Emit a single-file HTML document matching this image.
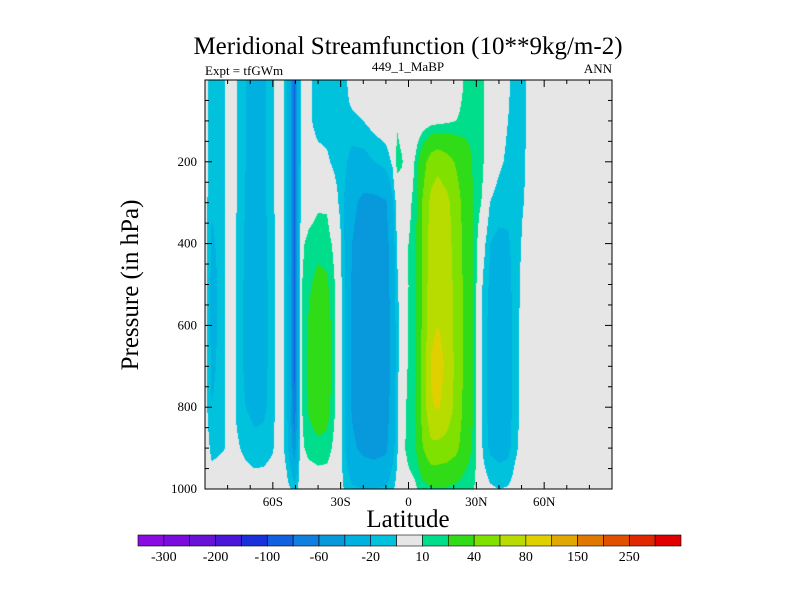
<!DOCTYPE html>
<html><head><meta charset="utf-8"><style>
body{margin:0;background:#fff;width:800px;height:600px;overflow:hidden;font-family:"Liberation Serif",serif}
</style></head><body>
<svg id="root" width="800" height="600" xmlns="http://www.w3.org/2000/svg">
<text x="408" y="54" text-anchor="middle" font-size="25" font-family="Liberation Serif">Meridional Streamfunction (10**9kg/m-2)</text>
<text x="205" y="75" font-size="13" font-family="Liberation Serif">Expt = tfGWm</text>
<text x="408" y="71" text-anchor="middle" font-size="13" font-family="Liberation Serif">449_1_MaBP</text>
<text x="612" y="73" text-anchor="end" font-size="13" font-family="Liberation Serif">ANN</text>
<foreignObject x="205" y="80" width="407" height="409">
<canvas id="cv" width="407" height="409" xmlns="http://www.w3.org/1999/xhtml" style="display:block"></canvas>
</foreignObject>
<g id="axes"></g>
<text x="408" y="527" text-anchor="middle" font-size="25" font-family="Liberation Serif">Latitude</text>
<text transform="translate(138,285) rotate(-90)" text-anchor="middle" font-size="25" font-family="Liberation Serif">Pressure (in hPa)</text>
<g id="cbar"></g>
</svg>
<script>
const lats=[-90,-87,-84,-81,-78,-76,-72,-68,-64,-60,-57,-54,-52,-50.5,-49,-47,-44,-40,-36,-32,-28,-25,-20,-15,-10,-7,-5,-3,0,3,6,10,13,17,21,25,29,33,36,40,44,47,51,54,90];
const pressures=[0,100,200,300,400,500,600,700,800,900,1000];
const values=[
[-5,-5,-5,-5,-5,-5,-5,-5,-5,-3,0],
[-15,-15,-16,-19,-22,-24,-24,-23,-20,-13,-4],
[-15,-15,-15,-16,-18,-19,-19,-18,-16,-12,-2],
[-10,-10,-10,-10,-10,-10,-10,-10,-10,-10,-2],
[-3,-3,-3,-3,-3,-3,-3,-3,-3,-3,-1],
[-10,-10,-10,-10,-11,-11,-12,-12,-12,-8,-2],
[-20,-20,-20,-21,-22,-23,-23,-23,-20,-13,-3],
[-24,-24,-25,-26,-27,-28,-28,-28,-24,-16,-4],
[-22,-22,-22,-23,-24,-25,-25,-25,-23,-15,-4],
[-12,-12,-12,-12,-13,-13,-13,-13,-13,-11,-3],
[-3,-3,-3,-3,-3,-3,-3,-3,-3,-3,-1],
[-15,-15,-15,-15,-15,-15,-15,-15,-15,-14,-6],
[-40,-40,-40,-40,-40,-40,-40,-42,-40,-30,-10],
[-85,-85,-85,-85,-85,-85,-85,-85,-80,-50,-15],
[-30,-30,-30,-30,-30,-30,-30,-30,-30,-25,-10],
[-5,-5,-5,-3,8,10,10,10,10,8,0],
[-8,-8,-4,3,14,18,22,24,22,14,0],
[-14,-14,-6,8,16,24,32,34,30,16,2],
[-15,-15,-8,8,15,22,28,30,26,15,2],
[-15,-15,-14,-6,5,8,8,8,8,5,0],
[-12,-12,-18,-22,-22,-22,-22,-22,-22,-20,-12],
[-5,-12,-25,-35,-40,-42,-44,-44,-42,-36,-18],
[-3,-10,-25,-45,-50,-52,-54,-54,-52,-45,-20],
[-3,-5,-20,-45,-52,-55,-56,-56,-55,-48,-20],
[-3,-3,-15,-42,-48,-50,-52,-52,-50,-44,-18],
[-3,-3,-8,-22,-28,-30,-32,-32,-30,-25,-12],
[-3,8,16,-5,-8,-12,-13,-13,-13,-12,-6],
[-3,2,12,-3,-3,-4,-4,-3,0,6,0],
[-2,-2,-2,6,10,10,10,12,15,14,5],
[-2,-2,12,15,16,16,16,18,20,18,8],
[-2,2,30,40,42,42,42,44,45,38,14],
[-2,5,50,65,70,72,75,82,78,55,18],
[-2,6,55,70,74,76,80,90,82,55,18],
[-2,8,48,65,68,70,72,75,72,52,18],
[0,10,38,50,52,54,54,55,54,45,16],
[12,14,28,32,34,35,35,35,34,30,12],
[16,16,18,18,18,18,18,18,18,17,10],
[12,12,11,8,-5,-12,-14,-14,-14,-12,-3],
[-3,-3,-3,-10,-20,-22,-24,-25,-25,-22,-8],
[-4,-5,-8,-14,-24,-28,-30,-30,-30,-26,-10],
[-8,-10,-12,-16,-22,-25,-27,-27,-27,-24,-9],
[-14,-14,-14,-14,-15,-15,-15,-15,-15,-13,-5],
[-13,-13,-12,-10,-8,-6,-5,-5,-5,-4,-2],
[-3,-3,-3,-3,-3,-3,-3,-3,-3,-3,-1],
[-2,-2,-2,-2,-2,-2,-2,-2,-2,-2,-1]
];
const levels=[-300,-250,-200,-150,-100,-80,-60,-40,-20,-10,10,20,40,60,80,100,150,200,250,300];
const colors=["#8a0ce0","#7a0ce0","#6812d8","#4a16d8","#1a30d8","#1060e0","#1080e0","#0898dc","#00b0e0","#00c2dc","#e6e6e6","#00de8c","#30dc18","#80e000","#b8dc00","#e0d000","#e0a800","#e07800","#e05000","#e02800","#e00000"];
const cbLabels=["-300","-200","-100","-60","-20","10","40","80","150","250"];
const xTickLats=[-60,-30,0,30,60];
const xTickNames=["60S","30S","0","30N","60N"];
const yTickP=[200,400,600,800,1000];

const X0=205,X1=612,Y0=80,Y1=489;
const xs=lat=>X0+(lat+90)/180*(X1-X0);
const ys=p=>Y0+p/1000*(Y1-Y0);
const NS="http://www.w3.org/2000/svg";
function mk(tag,attrs,parent){const e=document.createElementNS(NS,tag);for(const k in attrs)e.setAttribute(k,attrs[k]);parent.appendChild(e);return e;}

const cv=document.getElementById('cv');const ctx=cv.getContext('2d');
const W=cv.width,H=cv.height;const img=ctx.createImageData(W,H);
const rgb=colors.map(c=>[parseInt(c.slice(1,3),16),parseInt(c.slice(3,5),16),parseInt(c.slice(5,7),16)]);
function colorIdx(v){let i=0;while(i<levels.length&&v>=levels[i])i++;return i;}
for(let py=0;py<H;py++){
  const p=(py+0.5)/H*1000;
  let j=0;while(j<pressures.length-2&&p>pressures[j+1])j++;
  const tp=(p-pressures[j])/(pressures[j+1]-pressures[j]);
  for(let px=0;px<W;px++){
    const lat=(px+0.5)/W*180-90;
    let i=0;while(i<lats.length-2&&lat>lats[i+1])i++;
    const tl=(lat-lats[i])/(lats[i+1]-lats[i]);
    const v=(values[i][j]*(1-tp)+values[i][j+1]*tp)*(1-tl)+(values[i+1][j]*(1-tp)+values[i+1][j+1]*tp)*tl;
    const c=rgb[colorIdx(v)];const o=(py*W+px)*4;
    img.data[o]=c[0];img.data[o+1]=c[1];img.data[o+2]=c[2];img.data[o+3]=255;
  }
}
ctx.putImageData(img,0,0);

const ax=document.getElementById('axes');
const frame=mk('rect',{x:X0,y:Y0,width:X1-X0,height:Y1-Y0,fill:'none',stroke:'#000','stroke-width':1},ax);


for(let lat=-90;lat<=90;lat+=10){
  const x=xs(lat);const L=(lat%30===0)?7:4;
  mk('line',{x1:x,y1:Y1,x2:x,y2:Y1-L,stroke:'#000'},ax);
  mk('line',{x1:x,y1:Y0,x2:x,y2:Y0+L,stroke:'#000'},ax);
}
for(let p=50;p<=1000;p+=50){
  const y=ys(p);const L=(p%200===0)?7:4;
  mk('line',{x1:X0,y1:y,x2:X0+L,y2:y,stroke:'#000'},ax);
  mk('line',{x1:X1,y1:y,x2:X1-L,y2:y,stroke:'#000'},ax);
}
xTickLats.forEach((lat,k)=>{
  const t=mk('text',{x:xs(lat),y:Y1+17,'text-anchor':'middle','font-size':13,'font-family':'Liberation Serif'},ax);
  t.textContent=xTickNames[k];
  
  
});
yTickP.forEach(p=>{
  const t=mk('text',{x:X0-8,y:ys(p)+4,'text-anchor':'end','font-size':13,'font-family':'Liberation Serif'},ax);
  t.textContent=String(p);
  
  
});

const cb=document.getElementById('cbar');
const CB0=138,CB1=681,CBY=535,CBH=11;const bw=(CB1-CB0)/colors.length;
colors.forEach((c,k)=>{
  const r=mk('rect',{x:CB0+k*bw,y:CBY,width:bw,height:CBH,fill:c,stroke:'#000','stroke-width':0.6},cb);
  
  
});
cbLabels.forEach((lab,k)=>{
  const b=1+2*k;
  const t=mk('text',{x:CB0+b*bw,y:CBY+CBH+15,'text-anchor':'middle','font-size':14,'font-family':'Liberation Serif'},cb);
  t.textContent=lab;
  
  
});
</script>
</body></html>
